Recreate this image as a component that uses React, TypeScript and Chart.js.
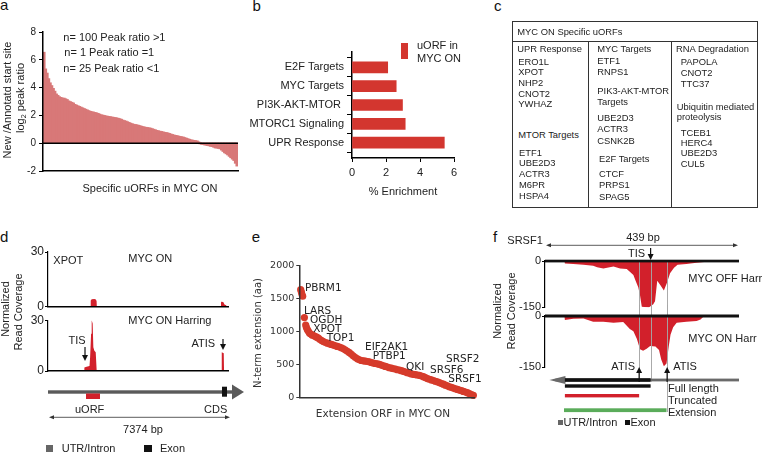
import React, { useEffect, useRef } from 'react';
import { Chart, registerables } from 'chart.js';
Chart.register(...registerables);

const AR = '"Liberation Sans", Arial, sans-serif';
const DV = '"DejaVu Sans", Verdana, sans-serif';
const INK = '#222';
const PINK = '#d87878';
const RED_B = '#d3362f';
const RED_COV = '#d2202b';
const RED_DOT = '#d63b2b';
const GREEN = '#5aac5a';

// ---------- panel a ----------
const aRatios = [
  6.5, 5.3, 5.0, 4.6, 4.3, 4.1, 3.9, 3.7, 3.5, 3.4,
  3.3, 3.25, 3.2, 3.2, 3.15, 3.1, 3.0, 2.95, 2.9, 2.85,
  2.75, 2.7, 2.65, 2.6, 2.55, 2.5, 2.45, 2.4, 2.35, 2.3,
  2.25, 2.22, 2.2, 2.17, 2.14, 2.1, 2.05, 2.0, 1.98, 1.95,
  1.92, 1.9, 1.88, 1.86, 1.84, 1.82, 1.8, 1.78, 1.75, 1.72,
  1.68, 1.62, 1.58, 1.55, 1.5, 1.45, 1.4, 1.36, 1.32, 1.3,
  1.28, 1.25, 1.22, 1.18, 1.15, 1.12, 1.1, 1.08, 1.06, 1.04,
  1.0, 0.96, 0.92, 0.88, 0.85, 0.82, 0.8, 0.77, 0.74, 0.72,
  0.7, 0.66, 0.62, 0.58, 0.55, 0.52, 0.5, 0.47, 0.44, 0.42,
  0.4, 0.36, 0.32, 0.28, 0.24, 0.2, 0.18, 0.16, 0.14, 0.12,
  0.05, 0, -0.03, -0.05, -0.08, -0.1, -0.12, -0.15, -0.18, -0.2,
  -0.25, -0.3, -0.3, -0.33, -0.36, -0.45, -0.55, -0.65, -0.72, -0.8,
  -0.9, -1.0, -1.1, -1.2, -1.4, -1.6,
];
const aCounts = ['n= 100 Peak ratio >1', 'n= 1 Peak ratio =1', 'n= 25 Peak ratio <1'];
const aTicks = [-2, 0, 2, 4, 6, 8];

// ---------- panel b ----------
const bCategories = ['E2F Targets', 'MYC Targets', 'PI3K-AKT-MTOR ', 'MTORC1 Signaling', 'UPR Response'];
const bEnrichment = [2.1, 2.6, 2.97, 3.13, 5.43];
const bTicks = [0, 2, 4, 6];

// ---------- panel c ----------
const cHeader = 'MYC ON Specific uORFs';
const cColumn1 = ['UPR Response', 'ERO1L', 'XPOT', 'NHP2', 'CNOT2', 'YWHAZ', 'MTOR Targets', 'ETF1', 'UBE2D3', 'ACTR3', 'M6PR', 'HSPA4'];
const cColumn2 = ['MYC Targets', 'ETF1', 'RNPS1', 'PIK3-AKT-MTOR', 'Targets', 'UBE2D3', 'ACTR3', 'CSNK2B', 'E2F Targets', 'CTCF', 'PRPS1', 'SPAG5'];
const cColumn3 = ['RNA Degradation', 'PAPOLA', 'CNOT2', 'TTC37', 'Ubiquitin mediated', 'proteolysis', 'TCEB1', 'HERC4', 'UBE2D3', 'CUL5'];

// ---------- panel d ----------
const dGeneLength = 7374;
const dOnPos = [0, 1740, 1750, 1790, 1900, 1960, 1990, 2000, 7085, 7090, 7180, 7230, 7300, 7320, 7374];
const dOnVal = [0, 0, 3.5, 4.2, 4.3, 4.0, 3.2, 0, 0, 2.8, 2.6, 1.2, 0.8, 0, 0];
const dHarrPos = [0, 1480, 1490, 1580, 1700, 1725, 1765, 1790, 1830, 1858, 1900, 1955, 1995, 7110, 7118, 7200, 7212, 7374];
const dHarrVal = [0, 0, 2.0, 2.5, 3.0, 8, 22, 30, 28, 14, 12, 11, 0, 0, 11, 10.5, 0, 0];
const dTicks = [0, 30];
const dUorf = [1557, 2130];
const dCds = [7128, 7333];
const dTis = 1516;
const dAtis = 7169;

// ---------- panel e ----------
const eRank = [
  0, 0.7, 1.3, 2, 3.7, 5, 5.7, 6.7, 7.7, 8.7, 10, 11.3, 12.7, 14.3, 16, 17.7, 19.3, 21, 22.7,
  24.7, 26.7, 28.7, 30.7, 32.7, 34.7, 36.7, 38.7, 40.7, 42.7,
  44.7, 46.7, 48.7, 50.7, 52.7, 54.7, 56.7, 58.7, 60.7, 62.7,
  64.7, 66.7, 68.7, 70.7, 72.7, 74.7, 76.7, 78.7, 80.7, 82.7,
  84.7, 86.7, 88.7, 90.7, 92.7, 94.7, 96.7, 98.7, 100.7, 102.7,
  104.7, 106.7, 108.7, 110.7, 112.7, 114.7, 116.7, 118.7, 120.7, 122.7,
  124.7, 126.7, 128.7, 130.7, 132.7, 134.7, 136.7, 138.7, 140.7, 142.7,
  144.7, 146.7, 148.7, 150.7, 152.7, 154.7, 156.7, 158.7, 160.7, 162.7,
  164.7, 166.7, 168.7, 170.7, 172.7,
];
const eExtension = [
  1636, 1600, 1561, 1536, 1212, 1097, 1062, 1027, 1002, 977, 962, 948, 938, 928, 913, 898, 878, 863, 848,
  833, 823, 813, 803, 793, 783, 773, 763, 753, 738,
  718, 698, 678, 653, 628, 603, 584, 569, 559, 554,
  549, 544, 539, 529, 519, 514, 509, 499, 489, 479,
  469, 459, 449, 444, 434, 429, 419, 414, 404, 394,
  384, 374, 364, 354, 349, 344, 339, 334, 324, 314,
  299, 284, 274, 264, 254, 244, 234, 224, 209, 199,
  185, 175, 160, 150, 140, 130, 120, 110, 100, 90,
  80, 70, 55, 40, 30,
];
const eLabels = ['PBRM1', 'LARS', 'OGDH', 'XPOT', 'TOP1', 'EIF2AK1', 'PTBP1', 'QKI', 'SRSF2', 'SRSF6', 'SRSF1'];
const eTicks = [0, 500, 1000, 1500, 2000];

// ---------- panel f ----------
const fLength = 439;
const fOffPos = [0, 44, 45, 64, 87, 109, 118, 132, 155, 170, 185, 192, 200, 205, 211, 215, 219, 235, 245, 249, 254, 262, 269, 276, 283, 292, 300, 320, 343, 360, 366, 439];
const fOffVal = [0, 0, -8, -10, -12, -15, -20, -24, -18, -24, -26, -35, -45, -64, -85, -111, -148, -150, -140, -130, -64, -80, -95, -70, -40, -22, -12, -10, -6, -3, 0, 0];
const fOnPos = [0, 44, 45, 64, 87, 109, 132, 155, 177, 192, 200, 208, 215, 222, 230, 238, 250, 258, 263, 269, 275, 280, 284, 290, 298, 320, 343, 352, 360, 439];
const fOnVal = [0, 0, -12, -8, -7, -17, -17, -20, -18, -38, -45, -68, -98, -102, -96, -88, -90, -100, -128, -148, -140, -90, -55, -33, -20, -17, -15, -10, 0, 0];
const fTicks = [-150, 0];
const fTis = 239;
const fAtis = [213, 275];
const fFull = [45, 239];
const fTrunc = [45, 213];
const fExt = [43, 275];
const fArrowTip = 10;

// ---------- helpers ----------
type Box = { x: number; y: number; w: number; h: number };
type Area = { l: number; t: number; r: number; b: number };

function baseOptions(box: Box, area: Area, yW: number, xH: number) {
  return {
    responsive: false,
    animation: false,
    devicePixelRatio: 1,
    events: [],
    layout: {
      autoPadding: false,
      padding: {
        left: area.l - box.x - yW,
        top: area.t - box.y,
        right: box.x + box.w - area.r,
        bottom: box.y + box.h - area.b - xH,
      },
    },
    plugins: { legend: { display: false }, tooltip: { enabled: false } },
  };
}

function arrow(ctx: any, x: number, yFrom: number, yTo: number) {
  const dir = Math.sign(yTo - yFrom);
  ctx.save();
  ctx.strokeStyle = '#111';
  ctx.fillStyle = '#111';
  ctx.lineWidth = 1.2;
  ctx.beginPath();
  ctx.moveTo(x, yFrom);
  ctx.lineTo(x, yTo - dir * 4);
  ctx.stroke();
  ctx.beginPath();
  ctx.moveTo(x, yTo);
  ctx.lineTo(x - 3, yTo - dir * 6);
  ctx.lineTo(x + 3, yTo - dir * 6);
  ctx.closePath();
  ctx.fill();
  ctx.restore();
}

function dblArrow(ctx: any, x0: number, x1: number, y: number) {
  ctx.save();
  ctx.strokeStyle = '#333';
  ctx.fillStyle = '#333';
  ctx.lineWidth = 0.8;
  ctx.beginPath();
  ctx.moveTo(x0 + 3, y);
  ctx.lineTo(x1 - 3, y);
  ctx.stroke();
  ctx.beginPath();
  ctx.moveTo(x0, y);
  ctx.lineTo(x0 + 5, y - 2);
  ctx.lineTo(x0 + 5, y + 2);
  ctx.closePath();
  ctx.fill();
  ctx.beginPath();
  ctx.moveTo(x1, y);
  ctx.lineTo(x1 - 5, y - 2);
  ctx.lineTo(x1 - 5, y + 2);
  ctx.closePath();
  ctx.fill();
  ctx.restore();
}

function vline(ctx: any, x: number, y0: number, y1: number) {
  ctx.save();
  ctx.strokeStyle = 'rgba(165,165,165,0.95)';
  ctx.lineWidth = 1;
  ctx.beginPath();
  ctx.moveTo(Math.round(x) + 0.5, y0);
  ctx.lineTo(Math.round(x) + 0.5, y1);
  ctx.stroke();
  ctx.restore();
}

const fixW = (w: number) => (s: any) => { s.width = w; };
const fixH = (h: number) => (s: any) => { s.height = h; };

const hiddenX = (min: number, max: number, borderOn: boolean) => ({
  type: 'linear',
  min,
  max,
  ticks: { display: false },
  grid: { display: false },
  border: { display: borderOn, color: '#000', width: 1.6, z: 1 },
  afterFit: fixH(0),
});

function covY(min: number, max: number, ticks: number[], w: number, size: number) {
  return {
    min,
    max,
    afterBuildTicks: (s: any) => { s.ticks = ticks.map((v) => ({ value: v })); },
    ticks: { font: { family: AR, size }, color: INK, padding: 1, callback: (v: number) => String(v) },
    grid: { drawOnChartArea: false, tickLength: 3, tickColor: '#000' },
    border: { color: '#000', width: 1.2, z: 1 },
    afterFit: fixW(w),
  };
}

function covDataset(pos: number[], val: number[]) {
  return {
    data: pos.map((p, i) => ({ x: p, y: val[i] })),
    fill: 'origin',
    backgroundColor: RED_COV,
    borderWidth: 0,
    pointRadius: 0,
    tension: 0,
  };
}

// ---------- chart configs ----------
const boxA: Box = { x: 0, y: 20, w: 245, h: 162 };
const areaA: Area = { l: 43, t: 32, r: 238, b: 171 };
const cfgA = () => ({
  type: 'bar',
  data: {
    labels: aRatios.map((_, i) => 'uORF ' + (i + 1)),
    datasets: [{ data: aRatios, backgroundColor: PINK, borderWidth: 0, barPercentage: 1, categoryPercentage: 1, inflateAmount: 1 }],
  },
  options: {
    ...baseOptions(boxA, areaA, 43, 0),
    scales: {
      x: { grid: { display: false }, ticks: { display: false }, border: { color: '#000', width: 1.5, z: 1 }, afterFit: fixH(0) },
      y: {
        min: -2,
        max: 8,
        afterBuildTicks: (s: any) => { s.ticks = aTicks.map((v) => ({ value: v })); },
        ticks: { font: { family: AR, size: 10 }, color: INK, padding: 3 },
        grid: { drawOnChartArea: false, tickLength: 4, tickColor: '#000' },
        border: { color: '#000', width: 1.5, z: 1 },
        afterFit: fixW(43),
      },
    },
  },
  plugins: [{
    id: 'zeroA',
    afterDatasetsDraw(c: any) {
      const y = c.scales.y.getPixelForValue(0);
      const ctx = c.ctx;
      ctx.save();
      ctx.strokeStyle = '#000';
      ctx.lineWidth = 1.5;
      ctx.beginPath();
      ctx.moveTo(c.chartArea.left, y);
      ctx.lineTo(c.chartArea.right, y);
      ctx.stroke();
      ctx.restore();
    },
  }],
});

const boxB: Box = { x: 240, y: 40, w: 225, h: 160 };
const areaB: Area = { l: 352, t: 52, r: 454, b: 158 };
const cfgB = () => ({
  type: 'bar',
  data: {
    datasets: [{
      data: bEnrichment.map((v, i) => ({ x: v, y: bCategories.length - 1 - i })),
      backgroundColor: RED_B,
      borderWidth: 0,
      barThickness: 11,
    }],
  },
  options: {
    ...baseOptions(boxB, areaB, 112, 20),
    indexAxis: 'y',
    scales: {
      x: {
        type: 'linear',
        min: 0,
        max: 6,
        afterBuildTicks: (s: any) => { s.ticks = bTicks.map((v) => ({ value: v })); },
        ticks: { font: { family: AR, size: 11 }, color: INK, padding: 4 },
        grid: { drawOnChartArea: false, tickLength: 4, tickColor: '#000' },
        border: { color: '#000', width: 1.5 },
        afterFit: fixH(20),
      },
      y: {
        type: 'linear',
        min: -0.255,
        max: 4.255,
        afterBuildTicks: (s: any) => { s.ticks = bCategories.map((_, i) => ({ value: i })); },
        ticks: {
          font: { family: AR, size: 11 },
          color: INK,
          padding: 3,
          callback: (v: number) => bCategories[bCategories.length - 1 - v],
        },
        grid: { drawOnChartArea: false, tickLength: 5, tickColor: '#000' },
        border: { color: '#000', width: 1.5 },
        afterFit: fixW(112),
      },
    },
  },
});

const boxD1: Box = { x: 0, y: 240, w: 235, h: 75 };
const areaD1: Area = { l: 48, t: 252, r: 228, b: 307.5 };
const cfgD1 = () => ({
  type: 'line',
  data: { datasets: [covDataset(dOnPos, dOnVal)] },
  options: {
    ...baseOptions(boxD1, areaD1, 48, 0),
    scales: { x: hiddenX(0, dGeneLength, true), y: covY(0, 30, dTicks, 48, 12) },
  },
});

const boxD2: Box = { x: 0, y: 312, w: 250, h: 141 };
const areaD2: Area = { l: 48, t: 320, r: 228, b: 371 };
const cfgD2 = () => ({
  type: 'line',
  data: { datasets: [covDataset(dHarrPos, dHarrVal)] },
  options: {
    ...baseOptions(boxD2, areaD2, 48, 0),
    scales: { x: hiddenX(0, dGeneLength, true), y: covY(0, 30, dTicks, 48, 12) },
  },
  plugins: [{
    id: 'geneD',
    afterDraw(c: any) {
      const ctx = c.ctx;
      const xs = c.scales.x;
      const px = (v: number) => xs.getPixelForValue(v);
      const Y = (y: number) => y - boxD2.y;
      arrow(ctx, px(dTis), Y(347), Y(361));
      arrow(ctx, px(dAtis), Y(339), Y(350));
      ctx.save();
      const lineEnd = px(dGeneLength) + 4;
      ctx.fillStyle = '#5a5a5a';
      ctx.fillRect(px(0), Y(390.3), lineEnd - px(0), 3.4);
      ctx.beginPath();
      ctx.moveTo(lineEnd, Y(384.5));
      ctx.lineTo(lineEnd + 12, Y(392));
      ctx.lineTo(lineEnd, Y(399.5));
      ctx.closePath();
      ctx.fill();
      ctx.fillStyle = '#111';
      ctx.fillRect(px(dCds[0]), Y(386.7), px(dCds[1]) - px(dCds[0]), 10);
      ctx.fillStyle = RED_COV;
      ctx.fillRect(px(dUorf[0]), Y(393.5), px(dUorf[1]) - px(dUorf[0]), 5.5);
      ctx.restore();
      dblArrow(ctx, px(0) + 1, px(dGeneLength) + 2, Y(417.3));
    },
  }],
});

const boxE: Box = { x: 252, y: 255, w: 228, h: 150 };
const areaE: Area = { l: 299.3, t: 265.7, r: 474, b: 399.3 };
const cfgE = () => ({
  type: 'scatter',
  data: {
    datasets: [{
      data: eRank.map((r, i) => ({ x: r, y: eExtension[i] })),
      backgroundColor: RED_DOT,
      borderWidth: 0,
      pointRadius: 3.6,
      clip: false,
    }],
  },
  options: {
    ...baseOptions(boxE, areaE, 47.3, 0),
    scales: {
      x: { ...hiddenX(-1.4, 173.3, true), border: { color: '#333', width: 1.5, z: 1 } },
      y: {
        min: 0,
        max: 2000,
        afterBuildTicks: (s: any) => { s.ticks = eTicks.map((v) => ({ value: v })); },
        ticks: { font: { family: DV, size: 9.5 }, color: '#333', padding: 2, callback: (v: number) => String(v) },
        grid: { drawOnChartArea: false, tickLength: 3, tickColor: '#333' },
        border: { color: '#333', width: 1.5, z: 1 },
        afterFit: fixW(47.3),
      },
    },
  },
});

const boxF1: Box = { x: 500, y: 230, w: 263, h: 85 };
const areaF1: Area = { l: 545, t: 261, r: 739, b: 309.3 };
const cfgF1 = () => ({
  type: 'line',
  data: { datasets: [covDataset(fOffPos, fOffVal)] },
  options: {
    ...baseOptions(boxF1, areaF1, 45, 0),
    scales: { x: hiddenX(0, fLength, false), y: covY(-150, 0, fTicks, 45, 11) },
  },
  plugins: [{
    id: 'f1',
    afterDatasetsDraw(c: any) {
      const ctx = c.ctx;
      const px = (v: number) => c.scales.x.getPixelForValue(v);
      const y0 = c.scales.y.getPixelForValue(0);
      const Y = (y: number) => y - boxF1.y;
      vline(ctx, px(fAtis[0]), y0, boxF1.h);
      vline(ctx, px(fAtis[1]), y0, boxF1.h);
      vline(ctx, px(fTis), Y(260), boxF1.h);
      ctx.save();
      ctx.fillStyle = '#111';
      ctx.fillRect(px(0), y0 - 1.3, px(fLength) - px(0), 2.7);
      ctx.restore();
      arrow(ctx, px(fTis), Y(248), Y(260));
      dblArrow(ctx, px(0) + 1, px(fLength) - 1, Y(245.3));
    },
  }],
});

const boxF2: Box = { x: 500, y: 305, w: 263, h: 148 };
const areaF2: Area = { l: 545, t: 316, r: 739, b: 367 };
const cfgF2 = () => ({
  type: 'line',
  data: { datasets: [covDataset(fOnPos, fOnVal)] },
  options: {
    ...baseOptions(boxF2, areaF2, 45, 0),
    scales: { x: hiddenX(0, fLength, false), y: covY(-150, 0, fTicks, 45, 11) },
  },
  plugins: [{
    id: 'f2',
    afterDatasetsDraw(c: any) {
      const ctx = c.ctx;
      const px = (v: number) => c.scales.x.getPixelForValue(v);
      const y0 = c.scales.y.getPixelForValue(0);
      const Y = (y: number) => y - boxF2.y;
      vline(ctx, px(fAtis[0]), 0, Y(381.7));
      vline(ctx, px(fTis), 0, Y(381.7));
      vline(ctx, px(fAtis[1]), 0, Y(412));
      ctx.save();
      ctx.fillStyle = '#111';
      ctx.fillRect(px(0), y0 - 1.5, px(fLength) - px(0), 3);
      // transcript model
      ctx.fillStyle = '#6a6a6a';
      ctx.fillRect(px(fArrowTip) + 6, Y(378.6), px(fLength) - px(fArrowTip) - 6, 2.8);
      ctx.beginPath();
      ctx.moveTo(px(fArrowTip), Y(380));
      ctx.lineTo(px(fArrowTip) + 16, Y(376));
      ctx.lineTo(px(fArrowTip) + 16, Y(384));
      ctx.closePath();
      ctx.fill();
      ctx.fillStyle = '#111';
      ctx.fillRect(px(fFull[0]), Y(378.2), px(fFull[1]) - px(fFull[0]), 3.6);
      ctx.fillRect(px(fFull[0]), Y(384.3), px(fFull[1]) - px(fFull[0]), 3.4);
      ctx.fillStyle = RED_COV;
      ctx.fillRect(px(fTrunc[0]), Y(394), px(fTrunc[1]) - px(fTrunc[0]), 3.4);
      ctx.fillStyle = GREEN;
      ctx.fillRect(px(fExt[0]), Y(408.3), px(fExt[1]) - px(fExt[0]), 3.8);
      ctx.restore();
      arrow(ctx, px(fAtis[0]), Y(382), Y(367));
      arrow(ctx, px(fAtis[1]) + 0.6, Y(382), Y(367));
    },
  }],
});

// ---------- components ----------
function ChartCanvas({ box, make }: { box: Box; make: () => any }) {
  const ref = useRef<HTMLCanvasElement>(null);
  useEffect(() => {
    const chart = new Chart(ref.current as HTMLCanvasElement, make());
    return () => chart.destroy();
  }, []);
  return (
    <canvas
      ref={ref}
      width={box.w}
      height={box.h}
      style={{ position: 'absolute', left: box.x, top: box.y, width: box.w, height: box.h }}
    />
  );
}

type TP = { x: number; y: number; s?: number; a?: 'l' | 'c' | 'r'; f?: string; c?: string; r?: boolean; children: any };
function T({ x, y, s = 11, a = 'l', f = AR, c = INK, r = false, children }: TP) {
  const style: any = {
    position: 'absolute', left: x, top: y, fontSize: s, fontFamily: f, color: c,
    lineHeight: 1, whiteSpace: 'nowrap',
  };
  if (r) style.transform = 'translate(-50%,-50%) rotate(-90deg)';
  else style.transform = `translate(${a === 'l' ? '0' : a === 'c' ? '-50%' : '-100%'},-50%)`;
  return <div style={style}>{children}</div>;
}

function Rect({ x, y, w, h, c }: { x: number; y: number; w: number; h: number; c: string }) {
  return <div style={{ position: 'absolute', left: x, top: y, width: w, height: h, background: c }} />;
}

const c1Layout = [[517.3, 49.3], [518.3, 61.7], [518.3, 71.7], [518.3, 82.7], [518.3, 94], [518.3, 104.3], [518.3, 135], [519, 153.3], [519, 163.3], [519, 174], [519, 185], [519, 196]];
const c2Layout = [[597.3, 49.3], [597.3, 61], [597.3, 71.7], [597.3, 90.7], [597.3, 101.7], [597.3, 118.3], [597.3, 129.3], [597.3, 140.7], [599, 159.3], [599, 174], [599, 185], [599, 196.7]];
const c3Layout = [[676, 49.3], [680.7, 62.3], [680.7, 73.3], [680.7, 84], [676.7, 106.7], [676.7, 116.7], [680.7, 132.7], [680.7, 142.7], [680.7, 153.3], [680.7, 164]];
const ePos = [[305, 287.3], [304, 310], [310, 318.6], [313.3, 327.5], [326.7, 337], [365, 345.8], [372.7, 355], [406, 365.8], [446, 357.8], [430, 368.7], [448.3, 377.8]];

export default function App() {
  const letter = (t: string, x: number, base: number) => (
    <T x={x} y={base - 0.36 * 15} s={15} c="#111">{t}</T>
  );
  const cs = 9.4;
  return (
    <div style={{ position: 'fixed', left: 0, top: 0, width: 763, height: 453, overflow: 'hidden', background: '#fff' }}>
      {/* panel letters */}
      {letter('a', 0, 9.5)}
      {letter('b', 252.5, 10)}
      {letter('c', 494, 10)}
      {letter('d', 0, 241.7)}
      {letter('e', 251.7, 241.7)}
      {letter('f', 493, 241.7)}

      {/* a */}
      <ChartCanvas box={boxA} make={cfgA} />
      <T x={63.3} y={37}>{aCounts[0]}</T>
      <T x={64.3} y={52.3}>{aCounts[1]}</T>
      <T x={63.3} y={67.7}>{aCounts[2]}</T>
      <T x={150} y={188} a="c">Specific uORFs in MYC ON</T>
      <T x={7.3} y={100} r>New /Annotatd start site</T>
      <T x={20} y={98} r>
        log<sub style={{ fontSize: '0.65em', verticalAlign: '-0.3em', lineHeight: 0 }}>2</sub> peak ratio
      </T>

      {/* b */}
      <ChartCanvas box={boxB} make={cfgB} />
      <Rect x={400.7} y={43} w={7.5} h={16} c={RED_B} />
      <T x={417} y={45}>uORF in</T>
      <T x={417} y={58}>MYC ON</T>
      <T x={403} y={190.5} a="c">% Enrichment</T>

      {/* c */}
      <div style={{ position: 'absolute', left: 511.5, top: 20.5, width: 244, height: 185, border: '1.4px solid #333' }} />
      <div style={{ position: 'absolute', left: 512, top: 40.5, width: 245, height: 1.3, background: '#333' }} />
      <div style={{ position: 'absolute', left: 587.8, top: 41, width: 1.2, height: 166, background: '#333' }} />
      <div style={{ position: 'absolute', left: 671.2, top: 41, width: 1.2, height: 166, background: '#333' }} />
      <T x={517.3} y={32.3} s={cs}>{cHeader}</T>
      {cColumn1.map((t, i) => <T key={'c1' + i} x={c1Layout[i][0]} y={c1Layout[i][1]} s={cs}>{t}</T>)}
      {cColumn2.map((t, i) => <T key={'c2' + i} x={c2Layout[i][0]} y={c2Layout[i][1]} s={cs}>{t}</T>)}
      {cColumn3.map((t, i) => <T key={'c3' + i} x={c3Layout[i][0]} y={c3Layout[i][1]} s={cs}>{t}</T>)}

      {/* d */}
      <ChartCanvas box={boxD1} make={cfgD1} />
      <ChartCanvas box={boxD2} make={cfgD2} />
      <T x={4.5} y={309} r>Normalized</T>
      <T x={17.5} y={312} r>Read Coverage</T>
      <T x={53.3} y={259.5}>XPOT</T>
      <T x={128.3} y={258}>MYC ON</T>
      <T x={128.3} y={320}>MYC ON Harring</T>
      <T x={68.5} y={340}>TIS</T>
      <T x={191.5} y={343.3}>ATIS</T>
      <T x={75} y={409.3}>uORF</T>
      <T x={204} y={409.3}>CDS</T>
      <T x={143} y={429.3} a="c">7374 bp</T>
      <Rect x={45.7} y={445} w={7.5} h={7.3} c="#666" />
      <T x={61.7} y={448.3}>UTR/Intron</T>
      <Rect x={144.3} y={445} w={7.5} h={7.3} c="#111" />
      <T x={160} y={448.3}>Exon</T>

      {/* e */}
      <ChartCanvas box={boxE} make={cfgE} />
      {eLabels.map((t, i) => <T key={'e' + i} x={ePos[i][0]} y={ePos[i][1]} s={10.5} f={DV} c="#222">{t}</T>)}
      <T x={383} y={413} a="c" s={10.5} f={DV} c="#333">Extension ORF in MYC ON</T>
      <T x={258.3} y={333} r s={10} f={DV} c="#333">N-term extension (aa)</T>

      {/* f */}
      <ChartCanvas box={boxF1} make={cfgF1} />
      <ChartCanvas box={boxF2} make={cfgF2} />
      <T x={496.5} y={311} r>Normalized</T>
      <T x={510.5} y={311} r>Read Coverage</T>
      <T x={507.3} y={240}>SRSF1</T>
      <T x={643} y={237.3} a="c">439 bp</T>
      <T x={628} y={253.3}>TIS</T>
      <T x={688.3} y={278.3}>MYC OFF Harr</T>
      <T x={688.3} y={338.3}>MYC ON Harr</T>
      <T x={635} y={365.7} a="r">ATIS</T>
      <T x={673.3} y={365.7}>ATIS</T>
      <T x={668} y={388.3}>Full length</T>
      <T x={668} y={400}>Truncated</T>
      <T x={668} y={411.7}>Extension</T>
      <Rect x={558} y={419.7} w={5} h={5} c="#666" />
      <T x={563.5} y={422}>UTR/Intron</T>
      <Rect x={625} y={419.7} w={5} h={5} c="#111" />
      <T x={630.5} y={422}>Exon</T>
    </div>
  );
}
